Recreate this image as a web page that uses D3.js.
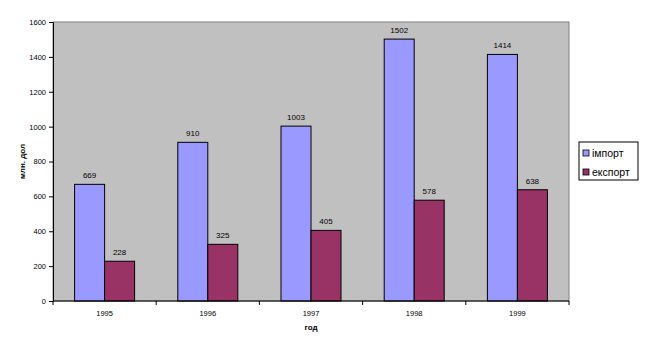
<!DOCTYPE html>
<html>
<head>
<meta charset="utf-8">
<script src="https://cdn.jsdelivr.net/npm/d3@7"></script>
<style>
  body { margin: 0; background: #fff; }
  svg text { font-family: "Liberation Sans", Arial, sans-serif; fill: #000; }
</style>
</head>
<body>
<svg id="chart"></svg>
<script>
const years = ["1995", "1996", "1997", "1998", "1999"];
const importVals = [669, 910, 1003, 1502, 1414];
const exportVals = [228, 325, 405, 578, 638];
const seriesNames = ["імпорт", "експорт"];
const yTicks = [0, 200, 400, 600, 800, 1000, 1200, 1400, 1600];

const width = 647, height = 351;
const margin = { top: 22, right: 78, bottom: 50, left: 53 };
const colors = ["#9999ff", "#993366"];

const svg = d3.select("#chart").attr("width", width).attr("height", height);

const x = d3.scaleBand().domain(years).range([margin.left, width - margin.right]);
const y = d3.scaleLinear().domain([0, 1600]).range([height - margin.bottom, margin.top]);

// plot area
svg.append("rect")
  .attr("x", margin.left).attr("y", margin.top)
  .attr("width", x.range()[1] - margin.left)
  .attr("height", y(0) - margin.top)
  .attr("fill", "#c0c0c0")
  .attr("stroke", "#808080")
  .attr("stroke-width", 1);

const barW = 30;
const series = [importVals, exportVals];

series.forEach((vals, si) => {
  const g = svg.append("g");
  g.selectAll("rect")
    .data(vals)
    .join("rect")
    .attr("x", (d, i) => x(years[i]) + x.bandwidth() / 2 - barW + si * barW)
    .attr("y", d => y(d))
    .attr("width", barW)
    .attr("height", d => y(0) - y(d))
    .attr("fill", colors[si])
    .attr("stroke", "#000")
    .attr("stroke-width", 1);

  g.selectAll("text")
    .data(vals)
    .join("text")
    .attr("x", (d, i) => x(years[i]) + x.bandwidth() / 2 - barW / 2 + si * barW)
    .attr("y", d => y(d) - 6)
    .attr("text-anchor", "middle")
    .style("font-size", "8px")
    .text(d => d);
});

// y axis
const yAxis = d3.axisLeft(y).tickValues(yTicks).tickFormat(d3.format("d")).tickSize(4).tickPadding(3);
const yg = svg.append("g").attr("transform", `translate(${margin.left},0)`).call(yAxis);
yg.select(".domain").attr("stroke", "#000");
yg.selectAll("text").style("font-size", "7.5px");

// x axis with ticks between categories
const xg = svg.append("g").attr("transform", `translate(0,${y(0)})`);
xg.append("line")
  .attr("x1", margin.left).attr("x2", x.range()[1])
  .attr("stroke", "#000");
xg.selectAll(".tk")
  .data(years.concat(["end"]))
  .join("line")
  .attr("x1", (d, i) => margin.left + i * x.step())
  .attr("x2", (d, i) => margin.left + i * x.step())
  .attr("y1", 0).attr("y2", 4)
  .attr("stroke", "#000");
xg.selectAll("text")
  .data(years)
  .join("text")
  .attr("x", d => x(d) + x.bandwidth() / 2)
  .attr("y", 15)
  .attr("text-anchor", "middle")
  .style("font-size", "7.5px")
  .text(d => d);

// axis titles
svg.append("text")
  .attr("x", (margin.left + x.range()[1]) / 2)
  .attr("y", 330)
  .attr("text-anchor", "middle")
  .style("font-size", "8px")
  .style("font-weight", "bold")
  .text("год");

svg.append("text")
  .attr("transform", `translate(25,${(margin.top + y(0)) / 2}) rotate(-90)`)
  .attr("text-anchor", "middle")
  .style("font-size", "8px")
  .style("font-weight", "bold")
  .text("млн. дол");

// legend
const lg = svg.append("g").attr("transform", "translate(579,142)");
lg.append("rect")
  .attr("width", 59).attr("height", 38)
  .attr("fill", "#fff").attr("stroke", "#000");
seriesNames.forEach((name, i) => {
  lg.append("rect")
    .attr("x", 4).attr("y", 8 + i * 19)
    .attr("width", 6).attr("height", 6)
    .attr("fill", colors[i]).attr("stroke", "#000").attr("stroke-width", 0.8);
  lg.append("text")
    .attr("x", 13).attr("y", 14.5 + i * 19)
    .style("font-size", "10.5px")
    .text(name);
});
</script>
</body>
</html>
